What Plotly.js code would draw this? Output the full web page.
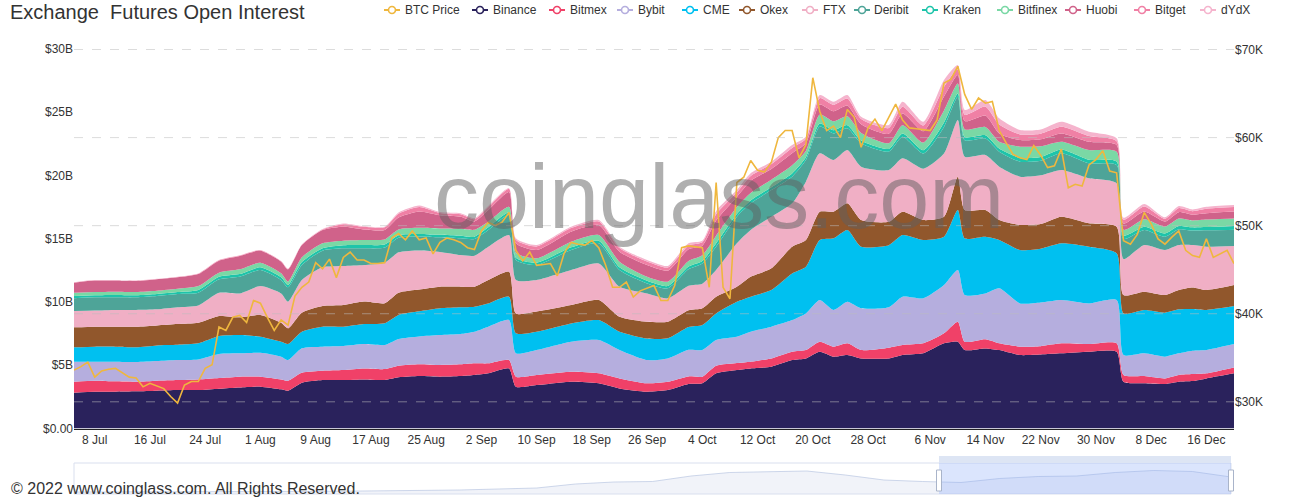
<!DOCTYPE html>
<html><head><meta charset="utf-8">
<script src="https://cdn.plot.ly/plotly-3.0.1.min.js"></script>
<style>html,body{margin:0;padding:0;background:#fff;}#chart{width:1306px;height:500px;}</style>
</head><body><div id="chart"></div>
<script>
// ---------- DATA ----------
const stackDates = ['2021-07-05','2021-07-08','2021-07-11','2021-07-14','2021-07-17','2021-07-20','2021-07-23','2021-07-26','2021-07-29','2021-08-01',
 '2021-08-04','2021-08-05','2021-08-07','2021-08-10','2021-08-13','2021-08-16','2021-08-19','2021-08-21','2021-08-24','2021-08-27',
 '2021-08-30','2021-09-01','2021-09-03','2021-09-06','2021-09-07','2021-09-10','2021-09-15','2021-09-19','2021-09-22','2021-09-26',
 '2021-09-29','2021-10-02','2021-10-04','2021-10-06','2021-10-09','2021-10-11','2021-10-14','2021-10-17','2021-10-19','2021-10-21',
 '2021-10-23','2021-10-25','2021-10-27','2021-10-31','2021-11-02','2021-11-05','2021-11-08','2021-11-10','2021-11-11','2021-11-14',
 '2021-11-16','2021-11-19','2021-11-22','2021-11-25','2021-11-29','2021-12-03','2021-12-04','2021-12-07','2021-12-10','2021-12-12',
 '2021-12-14','2021-12-16','2021-12-20'];

// open interest per exchange, billions USD
const binance = [2.83,2.91,2.91,2.94,2.99,3.04,3.04,3.15,3.25,3.31, 3.10,2.99,3.62,3.83,3.83,3.88,3.84,4.05,4.15,4.10, 4.15,4.23,4.36,4.75,3.30,3.43,3.70,3.57,3.17,2.91, 3.04,3.52,3.57,4.36,4.62,4.75,4.89,5.41,5.54,6.07, 5.68,5.81,5.54,5.54,5.81,5.94,6.73,6.86,6.20,6.33, 6.20,5.81,5.85,5.94,6.07,6.07,3.70,3.57,3.52,3.70, 3.75,3.96,4.36];
const bitmex = [0.87,0.87,0.82,0.76,0.79,0.79,0.84,0.84,0.85,0.79, 0.78,0.79,0.79,0.74,0.79,0.87,0.86,0.92,0.93,0.92, 0.92,0.92,0.79,0.66,0.80,0.80,0.79,0.79,0.79,0.66, 0.66,0.60,0.53,0.60,0.55,0.53,0.65,0.66,0.66,0.79, 0.79,0.92,0.66,0.85,0.79,0.79,0.79,1.58,0.66,0.72, 0.53,0.66,0.66,0.79,0.60,0.66,0.53,0.58,0.44,0.53, 0.55,0.40,0.47];
const bybit = [1.58,1.50,1.55,1.55,1.55,1.58,1.58,1.90,1.84,1.89, 1.80,1.63,1.93,1.90,1.90,1.93,1.90,2.11,2.20,2.37, 2.40,2.50,2.90,3.16,1.84,1.97,2.37,2.63,2.25,1.84, 1.84,2.10,2.11,2.04,2.09,2.37,2.51,2.50,2.90,3.30, 2.90,3.29,3.30,3.20,3.82,3.56,3.82,4.09,3.69,3.63, 4.35,3.42,3.45,3.43,3.22,3.43,1.58,1.79,1.72,1.71, 1.85,1.85,1.85];
const cme = [1.14,1.19,1.19,1.17,1.24,1.21,1.27,1.42,1.45,1.27, 1.18,1.27,1.31,1.58,1.53,1.58,1.72,1.90,1.98,2.11, 2.11,1.98,1.84,1.85,1.58,1.45,1.45,1.58,1.44,1.70, 1.59,1.80,1.97,2.10,2.76,2.77,2.90,3.69,3.69,4.74, 5.66,5.67,4.87,4.90,4.87,4.61,3.82,4.74,4.48,4.48, 3.82,4.22,4.25,4.48,4.48,3.69,3.29,3.43,3.48,3.48, 3.30,3.16,3.00];
const okex = [1.58,1.58,1.58,1.63,1.58,1.64,1.63,1.58,1.40,1.71, 1.50,1.24,1.51,1.63,1.71,1.77,1.58,1.75,1.72,1.71, 1.63,1.58,1.85,1.98,1.58,1.59,1.45,1.59,1.19,1.33, 1.31,1.32,1.32,1.32,1.19,1.58,1.71,2.11,2.11,2.24, 2.11,2.11,2.11,1.85,1.85,1.58,1.58,2.64,2.24,2.11, 1.58,1.98,1.95,2.10,1.85,2.10,1.45,1.44,1.39,1.53, 1.70,1.58,1.66];
const ftx = [1.29,1.27,1.32,1.32,1.27,1.32,1.37,1.84,1.89,2.29, 2.32,2.11,2.58,3.06,3.08,2.89,3.20,3.20,3.10,2.75, 2.50,2.45,2.63,2.89,2.64,2.50,2.77,2.89,2.37,2.24, 1.85,1.95,1.95,2.11,3.43,3.69,4.08,3.43,4.61,4.61, 4.08,4.21,4.22,4.09,4.22,4.06,5.00,4.48,4.22,4.35, 4.22,3.82,3.85,3.69,3.56,3.43,2.85,3.69,3.56,3.55, 3.35,3.42,3.08];
const deribit = [1.00,1.05,1.00,1.00,1.05,1.05,1.00,1.06,1.32,1.27, 1.06,1.13,1.18,1.32,1.40,1.32,1.20,1.15,1.10,1.15, 1.32,1.32,1.32,1.58,1.58,1.18,1.58,1.59,1.32,0.79, 0.79,1.30,1.60,1.84,2.10,2.11,2.11,2.11,1.71,2.11, 2.11,1.72,1.84,1.45,1.70,1.20,2.10,1.84,1.30,1.30, 1.18,1.18,1.15,1.32,1.18,1.45,1.60,1.20,1.05,1.25, 1.15,1.30,1.30];
const kraken = [0.18,0.16,0.18,0.16,0.16,0.16,0.22,0.21,0.21,0.21, 0.21,0.18,0.24,0.18,0.24,0.26,0.25,0.20,0.20,0.20, 0.21,0.18,0.21,0.20,0.18,0.19,0.21,0.21,0.21,0.21, 0.18,0.21,0.20,0.27,0.22,0.22,0.22,0.25,0.22,0.25, 0.25,0.25,0.22,0.22,0.26,0.26,0.35,0.26,0.26,0.26, 0.25,0.30,0.30,0.30,0.28,0.27,0.26,0.25,0.25,0.25, 0.25,0.25,0.28];
const bitfinex = [0.27,0.26,0.27,0.26,0.26,0.26,0.31,0.32,0.37,0.37, 0.32,0.27,0.37,0.40,0.37,0.40,0.40,0.45,0.48,0.50, 0.55,0.55,0.45,0.46,0.40,0.34,0.45,0.45,0.45,0.32, 0.35,0.45,0.45,0.60,0.55,0.60,0.60,0.65,0.50,0.70, 0.70,0.70,0.60,0.45,0.66,0.60,0.95,0.79,0.60,0.66, 0.54,0.89,0.85,0.62,0.77,0.78,0.45,0.60,0.55,0.60, 0.55,0.60,0.60];
const huobi = [0.79,0.90,0.87,0.87,0.90,0.90,0.95,0.95,1.06,0.95, 0.92,0.97,0.97,1.05,1.10,0.84,0.75,0.95,1.30,1.05, 0.95,0.66,0.92,1.17,0.74,0.66,0.79,0.78,0.79,0.92, 0.87,0.92,0.75,1.20,0.80,0.95,0.85,0.95,0.60,0.80, 0.80,0.85,0.70,0.75,0.92,0.90,1.10,0.66,0.65,0.90, 0.66,0.52,0.55,0.66,0.66,0.53,0.50,0.60,0.40,0.50, 0.45,0.50,0.55];
const bitget = [0.02,0.02,0.02,0.02,0.02,0.03,0.03,0.03,0.03,0.03, 0.03,0.03,0.03,0.05,0.20,0.20,0.20,0.30,0.35,0.18, 0.20,0.18,0.22,0.25,0.28,0.28,0.28,0.28,0.28,0.28, 0.25,0.30,0.27,0.50,0.36,0.40,0.38,0.42,0.36,0.50, 0.50,0.55,0.40,0.45,0.53,0.45,0.75,0.45,0.50,0.70, 0.70,0.45,0.45,0.52,0.45,0.30,0.30,0.40,0.22,0.33, 0.28,0.35,0.35];
const dydx = [0.02,0.02,0.02,0.02,0.02,0.02,0.02,0.02,0.02,0.02, 0.02,0.02,0.02,0.03,0.05,0.05,0.05,0.10,0.12,0.07, 0.07,0.08,0.10,0.05,0.11,0.11,0.11,0.12,0.11,0.12, 0.12,0.18,0.12,0.26,0.18,0.20,0.19,0.23,0.17,0.25, 0.25,0.28,0.19,0.25,0.40,0.30,0.56,0.34,0.38,0.53, 0.49,0.34,0.33,0.40,0.34,0.23,0.15,0.20,0.11,0.16, 0.14,0.16,0.17];

const seriesNames = ['Binance','Bitmex','Bybit','CME','Okex','FTX','Deribit','Kraken','Bitfinex','Huobi','Bitget','dYdX'];
const seriesValues = [binance,bitmex,bybit,cme,okex,ftx,deribit,kraken,bitfinex,huobi,bitget,dydx];
const seriesColors = ['#2a225c','#f04168','#b5aede','#00c0f0','#91572c','#f0afc5','#4ea498','#1ec4aa','#7ad8a5','#d0628a','#f080a5','#f5b4cd'];

// BTC price, thousands USD, one value per day from btcStartDate
const btcStartDate = '2021-07-05';
const btcPrice = [33.6,34.0,34.5,32.8,33.5,33.7,33.8,33.3,32.8,32.7,
 31.7,32.1,31.8,31.5,30.6,29.85,31.9,32.3,32.3,33.8,
 34.2,38.5,38.1,39.6,39.8,39.0,41.5,41.2,39.6,38.1,
 39.3,38.7,42.0,43.0,43.6,45.8,45.1,46.2,44.1,46.4,
 47.0,46.1,46.1,45.7,45.7,45.8,48.6,49.1,48.4,49.4,
 48.4,48.6,46.8,48.1,48.6,48.4,48.1,47.5,47.3,49.4,
 50.4,50.0,50.4,51.5,47.2,46.0,47.0,45.5,45.6,45.7,
 44.3,46.9,48.1,47.9,47.8,48.3,47.5,45.5,43.0,43.0,
 43.6,41.9,42.6,42.9,43.2,41.5,41.5,43.2,47.5,47.7,
 47.6,47.5,43.0,54.9,43.0,41.7,54.9,55.5,57.4,56.3,
 56.1,57.2,60.0,60.8,60.8,57.7,59.2,66.8,63.0,60.8,
 61.3,60.0,63.2,62.3,58.9,61.1,62.1,60.8,62.3,63.8,
 62.0,61.1,61.0,60.9,60.8,62.0,66.2,66.6,68.1,64.9,
 63.2,64.5,63.9,64.1,60.8,59.4,58.1,57.7,57.5,59.1,
 58.0,56.6,56.8,58.7,54.3,54.7,54.5,56.9,57.5,58.5,
 56.2,56.0,48.3,47.9,49.0,51.5,50.2,48.5,47.9,48.7,
 49.4,47.2,46.6,46.4,48.5,46.4,46.8,47.2,45.7];

const xTickDates = ['2021-07-08','2021-07-16','2021-07-24','2021-08-01','2021-08-09','2021-08-17','2021-08-25','2021-09-02','2021-09-10','2021-09-18','2021-09-26','2021-10-04','2021-10-12','2021-10-20','2021-10-28','2021-11-06','2021-11-14','2021-11-22','2021-11-30','2021-12-08','2021-12-16'];
const xTickText = ['8 Jul','16 Jul','24 Jul','1 Aug','9 Aug','17 Aug','25 Aug','2 Sep','10 Sep','18 Sep','26 Sep','4 Oct','12 Oct','20 Oct','28 Oct','6 Nov','14 Nov','22 Nov','30 Nov','8 Dec','16 Dec'];
const leftTicks = [0,5,10,15,20,25,30];
const leftTickText = ['$0.00','$5B','$10B','$15B','$20B','$25B','$30B'];
const rightTicks = [30,40,50,60,70];
const rightTickText = ['$30K','$40K','$50K','$60K','$70K'];

// data-zoom overview (relative total OI over full history)
const overviewTotal = [2,2,2,2,2.2,2.4,2.6,2.8,3,3.5,4,5,6,10,12,12.5,18,21.5,22,23,19,14,12.5,11.5,15.5,17.5,18,21.5,23.5,22.5,17];

const legendNames = ['BTC Price'].concat(seriesNames);
const legendColors = ['#efb73e'].concat(seriesColors);
const legendPx = [392,480,557,625,690,747,810,862,930,1005,1073,1142,1208];

// ---------- LAYOUT HELPERS ----------
const W=1306,H=500,ML=74,MR=72,MT=49,MB=6;
const PW=W-ML-MR, PH=H-MT-MB;
const px2x = p => (p-ML)/PW;
const py2y = p => (H-MB-p)/PH;
const FONT = 'Liberation Sans, Arial, Helvetica, sans-serif';

function addDays(s,n){const d=new Date(s+'T00:00:00Z');d.setUTCDate(d.getUTCDate()+n);return d.toISOString().slice(0,10);}
const btcDates = btcPrice.map((_,i)=>addDays(btcStartDate,i));

const traces = [];
seriesNames.forEach((nm,i)=>{
  traces.push({type:'scatter',mode:'lines',name:nm,x:stackDates,y:seriesValues[i],stackgroup:'oi',
    line:{width:0,shape:'spline',smoothing:0.6,color:seriesColors[i]},fillcolor:seriesColors[i],
    showlegend:false,hoverinfo:'skip'});
});
traces.push({type:'scatter',mode:'lines',name:'BTC Price',x:btcDates,y:btcPrice,yaxis:'y2',
  line:{color:'#efb73e',width:1.6},showlegend:false,hoverinfo:'skip'});
traces.push({type:'scatter',mode:'lines',x:overviewTotal.map((_,i)=>i),y:overviewTotal,xaxis:'x2',yaxis:'y3',
  fill:'tozeroy',fillcolor:'rgba(210,216,234,0.3)',line:{color:'rgba(175,190,222,0.6)',width:1},showlegend:false,hoverinfo:'skip'});

const shapes = [];
rightTicks.forEach(v=>shapes.push({type:'line',xref:'paper',x0:0,x1:1,yref:'y2',y0:v,y1:v,layer:'above',
  line:{color:'rgba(190,190,190,0.55)',width:1,dash:'dash'}}));
// slider
shapes.push({type:'rect',xref:'paper',yref:'paper',x0:px2x(74),x1:px2x(1231),y0:py2y(494),y1:py2y(463),line:{color:'#d9dfee',width:1},fillcolor:'rgba(0,0,0,0)'});
shapes.push({type:'rect',xref:'paper',yref:'paper',x0:px2x(939),x1:px2x(1231),y0:py2y(494),y1:py2y(463),line:{width:0},fillcolor:'rgba(135,170,250,0.3)',layer:'above'});
shapes.push({type:'rect',xref:'paper',yref:'paper',x0:px2x(939),x1:px2x(1231),y0:py2y(463),y1:py2y(456),line:{width:0},fillcolor:'#dde5f4'});
[939,1231].forEach(p=>shapes.push({type:'rect',xref:'paper',yref:'paper',x0:px2x(p-2.5),x1:px2x(p+2.5),y0:py2y(491),y1:py2y(470),line:{color:'#a9b4ca',width:1},fillcolor:'#ffffff',layer:'above'}));
// legend symbols
const annotations = [];
legendNames.forEach((nm,i)=>{
  const p=legendPx[i], c=legendColors[i];
  shapes.push({type:'line',xref:'paper',yref:'paper',x0:px2x(p-8),x1:px2x(p+8),y0:py2y(10),y1:py2y(10),line:{color:c,width:2}});
  shapes.push({type:'circle',xref:'paper',yref:'paper',x0:px2x(p-3.5),x1:px2x(p+3.5),y0:py2y(13.5),y1:py2y(6.5),line:{color:c,width:1.6},fillcolor:'#ffffff'});
  annotations.push({xref:'paper',yref:'paper',x:px2x(p+11.5),y:py2y(10),xanchor:'left',yanchor:'middle',text:nm,showarrow:false,borderpad:0,
    font:{family:FONT,size:12,color:'#333'}});
});
annotations.push({xref:'paper',yref:'paper',x:px2x(719),y:py2y(197),xanchor:'center',yanchor:'middle',text:'coinglass.com',showarrow:false,
  font:{family:FONT,size:90,color:'rgba(95,95,95,0.5)'}});
annotations.push({xref:'paper',yref:'paper',x:px2x(10),y:py2y(488),xanchor:'left',yanchor:'middle',text:'© 2022 www.coinglass.com. All Rights Reserved.',showarrow:false,borderpad:0,
  font:{family:FONT,size:16,color:'#333'}});

const tickFont = {family:FONT,size:12,color:'#333'};
const layout = {
  width:W,height:H,margin:{l:ML,r:MR,t:MT,b:MB},paper_bgcolor:'#fff',plot_bgcolor:'#fff',
  font:{family:FONT,color:'#333'},showlegend:false,
  title:{text:'Exchange\u00a0 Futures Open Interest',font:{family:FONT,size:20,color:'#333'},xref:'container',yref:'container',x:10/W,xanchor:'left',y:1-12/H,yanchor:'middle'},
  xaxis:{type:'date',domain:[0,1],anchor:'y',range:['2021-07-05','2021-12-20'],tickmode:'array',tickvals:xTickDates,ticktext:xTickText,
    showgrid:false,zeroline:false,showline:true,linecolor:'#222',linewidth:1.2,ticks:'',tickfont:tickFont,fixedrange:true},
  yaxis:{domain:[py2y(428.5),1],range:[0,30],tickmode:'array',tickvals:leftTicks,ticktext:leftTickText,showgrid:false,zeroline:false,
    showline:false,ticks:'',tickfont:tickFont,fixedrange:true},
  yaxis2:{overlaying:'y',side:'right',range:[26.97,70.06],tickmode:'array',tickvals:rightTicks,ticktext:rightTickText,showgrid:false,
    zeroline:false,showline:false,ticks:'',tickfont:tickFont,fixedrange:true},
  xaxis2:{domain:[0,px2x(1231)],anchor:'y3',range:[0,overviewTotal.length-1],visible:false,fixedrange:true},
  yaxis3:{domain:[0,py2y(463)],anchor:'x2',range:[0,31],visible:false,fixedrange:true},
  shapes:shapes,annotations:annotations
};
Plotly.newPlot('chart',traces,layout,{staticPlot:true,displayModeBar:false});
</script></body></html>
